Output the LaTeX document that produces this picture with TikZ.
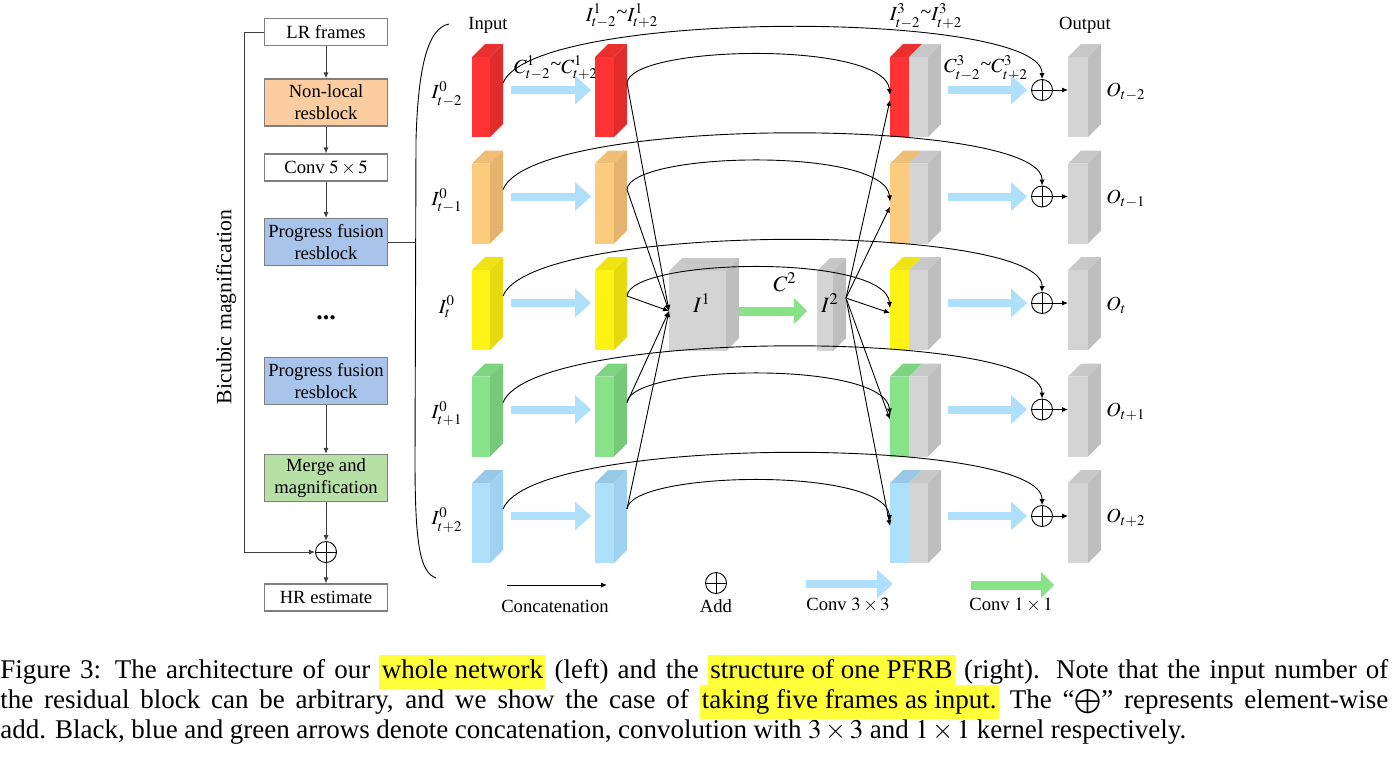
\documentclass[tikz,border=0pt]{standalone}
\usepackage{mathptmx}
\usepackage{fontspec}
\setmainfont{Liberation Serif}
\usetikzlibrary{arrows.meta}
\definecolor{redF}{HTML}{FF3333}\definecolor{redS}{HTML}{E22B2B}\definecolor{redT}{HTML}{EA2F2F}
\definecolor{orF}{HTML}{FDCB7E}\definecolor{orS}{HTML}{E4B46E}\definecolor{orT}{HTML}{EFBF77}
\definecolor{yeF}{HTML}{FFF215}\definecolor{yeS}{HTML}{E6D910}\definecolor{yeT}{HTML}{F0E313}
\definecolor{grF}{HTML}{88E28A}\definecolor{grS}{HTML}{76C979}\definecolor{grT}{HTML}{7ED581}
\definecolor{blF}{HTML}{ADE0FB}\definecolor{blS}{HTML}{9FD1F0}\definecolor{blT}{HTML}{97C8E6}
\definecolor{gyF}{HTML}{D4D4D4}\definecolor{gyS}{HTML}{BEBEBE}\definecolor{gyT}{HTML}{C8C8C8}
\definecolor{convblue}{HTML}{AEE0FB}\definecolor{convgreen}{HTML}{88E388}
\definecolor{boxgray}{HTML}{7F7F7F}\definecolor{boxor}{HTML}{FCCDA0}
\definecolor{boxbl}{HTML}{A9C4EB}\definecolor{boxgr}{HTML}{B7E0A6}
\definecolor{hly}{HTML}{FFFF3A}
\newcommand\dfont{\fontsize{9.3}{11}\selectfont}
\newcommand\capfont{\fontsize{13.5}{15}\selectfont}
\newcommand\hlt[1]{{\setlength{\fboxsep}{1.2pt}\colorbox{hly}{\strut #1}}}
% block: name, x-left, y-center, width, front, side, top
\newcommand\blk[7]{%
  \fill[#7] (#2,#3-40) -- ++(13,-13) -- ++(#4,0) -- ++(-13,13) -- cycle;
  \fill[#6] (#2+#4,#3-40) -- ++(13,-13) -- ++(0,80) -- ++(-13,13) -- cycle;
  \node[fill=#5, inner sep=0, outer sep=0, minimum width={#4*0.5pt}, minimum height=40pt] (#1) at (#2+#4/2,#3) {};
}
\begin{document}
\begin{tikzpicture}[x=0.5pt,y=-0.5pt,
  box/.style={draw=boxgray, line width=0.6pt, minimum width=61.5pt, minimum height=13.5pt, inner sep=0, align=center, font=\dfont},
  tall/.style={minimum height=23.5pt},
  lbl/.style={inner sep=0, font=\dfont},
  mlbl/.style={inner sep=0, font=\fontsize{10}{12}\selectfont},
  oplus/.style={circle, draw, line width=0.45pt, minimum size=10.5pt, inner sep=0,
    path picture={\draw[line width=0.45pt] (path picture bounding box.north) -- (path picture bounding box.south)
      (path picture bounding box.west) -- (path picture bounding box.east);}},
  garrow/.style={draw=black!75, line width=0.5pt, -{Latex[length=3pt,width=2.6pt]}},
  cat/.style={draw=black, line width=0.45pt, -{Latex[length=3pt,width=2.6pt]}},
  conv/.style={draw=convblue, line width=4pt, -{Triangle[length=8pt,width=14.5pt,line width=0pt]}},
  convg/.style={draw=convgreen, line width=4.5pt, -{Triangle[length=6.5pt,width=13pt,line width=0pt]}}]
\useasboundingbox (0,0) rectangle (1400,756);

% ---------- left: whole network ----------
\node[box] (lr) at (326,32) {LR frames};
\node[box,tall,fill=boxor] (nl) at (326,102.5) {Non-local\\resblock};
\node[box] (conv) at (326,167.5) {Conv $5\times5$};
\node[box,tall,fill=boxbl] (pf1) at (326,242) {Progress fusion\\resblock};
\node[inner sep=0, font=\fontsize{13}{14}\selectfont\bfseries] (dots) at (326,318) {...};
\node[box,tall,fill=boxbl] (pf2) at (326,381) {Progress fusion\\resblock};
\node[box,tall,fill=boxgr] (mm) at (326,478) {Merge and\\magnification};
\node[oplus] (sum) at (326,552) {};
\node[box] (hr) at (326,597.5) {HR estimate};
\draw[garrow] (lr) -- (nl);
\draw[garrow] (nl) -- (conv);
\draw[garrow] (conv) -- (pf1);
\draw[garrow] (pf2) -- (mm);
\draw[garrow] (mm) -- (sum);
\draw[garrow] (sum) -- (hr);
\coordinate (bl) at (244,32);
\draw[garrow] (lr.west) -- (bl) |- (sum.west);
\node[lbl, rotate=90, font=\fontsize{10.9}{13}\selectfont] (bic) at (226,307) {Bicubic magnification};
\coordinate (br) at (415.5,242);
\draw[draw=black!75, line width=0.5pt] (pf1.east) -- (br);
\draw[line width=0.45pt] (449,24) .. controls (427,28) and (418,70) .. (416,140) -- (415,460)
  .. controls (415,545) and (420,572) .. (436,578);

% ---------- right: PFRB ----------
\node[lbl] (tin) at (488,25) {Input};
\node[lbl] (tout) at (1085,25) {Output};
\node[mlbl] (ti1) at (622,16) {$I^1_{t-2}$\raisebox{0.3ex}{\textasciitilde}$I^1_{t+2}$};
\node[mlbl] (ti3) at (926,16) {$I^3_{t-2}$\raisebox{0.3ex}{\textasciitilde}$I^3_{t+2}$};
\node[mlbl] (tc1) at (556,68) {$C^1_{t-2}$\raisebox{0.3ex}{\textasciitilde}$C^1_{t+2}$};
\node[mlbl] (tc3) at (986,68) {$C^3_{t-2}$\raisebox{0.3ex}{\textasciitilde}$C^3_{t+2}$};

\foreach \k/\fc/\sc/\tc/\sub in {0/redF/redS/redT/{t-2},1/orF/orS/orT/{t-1},2/yeF/yeS/yeT/{t},3/grF/grS/grT/{t+1},4/blF/blS/blT/{t+2}}{
  \pgfmathsetmacro\y{97+106.5*\k}
  \blk{A\k}{472}{\y}{18}{\fc}{\sc}{\tc}
  \blk{B\k}{595}{\y}{19}{\fc}{\sc}{\tc}
  \fill[\tc] (890,\y-40) -- ++(13,-13) -- ++(19,0) -- ++(-13,13) -- cycle;
  \blk{G\k}{909}{\y}{19}{gyF}{gyS}{gyT}
  \node[fill=\fc, inner sep=0, outer sep=0, minimum width=9.5pt, minimum height=40pt] (C\k) at (899.5,\y) {};
  \blk{D\k}{1068}{\y}{20}{gyF}{gyS}{gyT}
  \node[oplus] (P\k) at (1042,\y-7) {};
  \node[mlbl] (LI\k) at (447,\y-3) {$I^0_{\sub}$};
  \node[mlbl, anchor=west] (LO\k) at (1106,\y-5) {$O_{\sub}$};
}
\blk{I1}{669}{311}{57}{gyF}{gyS}{gyT}
\blk{I2}{817}{311}{16}{gyF}{gyS}{gyT}
\node[font=\fontsize{11}{13}\selectfont, inner sep=0] (I1l) at (702,303) {$I^1$};
\node[font=\fontsize{11}{13}\selectfont, inner sep=0] (I2l) at (830,303) {$I^2$};
\node[font=\fontsize{11}{13}\selectfont, inner sep=0] (C2l) at (785,282) {$C^2$};
\coordinate (I2o) at (846,298);
\draw[convg] ([xshift=6.5pt]I1.east) -- ([xshift=-5pt]I2.west);

\foreach \k in {0,...,4}{
  \pgfmathsetmacro\y{97+106.5*\k}
  \coordinate (Ao\k) at (503,\y-14);
  \coordinate (Bo\k) at (627,\y-14);
  \coordinate (Ci\k) at (890,\y-2);
  \coordinate (Cs\k) at (890,\y+3);
  \draw[conv] ([shift={(21,-7)}]A\k.east) -- ([shift={(-4,-7)}]B\k.west);
  \draw[conv] ([shift={(20,-7)}]G\k.east) -- ([shift={(-4,0)}]P\k.west);
  \draw[cat] (Ao\k) .. controls +(30,-75) and +(1,-69) .. (P\k.north);
  \draw[cat] (Bo\k) .. controls +(3,-38) and +(-5,-55) .. (Ci\k);
  \draw[cat] (Bo\k) -- (I1.west);
  \draw[cat] (I2o) -- (Cs\k);
  \draw[cat] (P\k.east) -- (P\k.east -| D\k.west);
}

% ---------- legend ----------
\coordinate (lc1) at (507,585); \coordinate (lc2) at (607,585);
\draw[cat] (lc1) -- (lc2);
\node[lbl] (lcat) at (555,606) {Concatenation};
\node[oplus] (ladd) at (716,583) {};
\node[lbl] (laddt) at (716,606) {Add};
\coordinate (lb1) at (806,584); \coordinate (lb2) at (893,584);
\draw[conv] (lb1) -- (lb2);
\node[lbl] (lbt) at (848,605) {Conv $3\times3$};
\coordinate (lg1) at (971,585); \coordinate (lg2) at (1054,585);
\draw[convg] (lg1) -- (lg2);
\node[lbl] (lgt) at (1011,605) {Conv $1\times1$};

% ---------- caption ----------
\node[anchor=base west, inner sep=0, font=\capfont] (cap1) at (0,678) {\makebox[694pt][s]{Figure 3: The architecture of our \hlt{whole network} (left) and the \hlt{structure of one PFRB} (right). Note that the input number of}};
\node[anchor=base west, inner sep=0, font=\capfont] (cap2) at (0,708) {\makebox[694pt][s]{the residual block can be arbitrary, and we show the case of \hlt{taking five frames as input.} The “$\bigoplus$” represents element-wise}};
\node[anchor=base west, inner sep=0, font=\capfont] (cap3) at (0,738) {\makebox[593pt][s]{add. Black, blue and green arrows denote concatenation, convolution with $3\times3$ and $1\times1$ kernel respectively.}};
\end{tikzpicture}
\end{document}
